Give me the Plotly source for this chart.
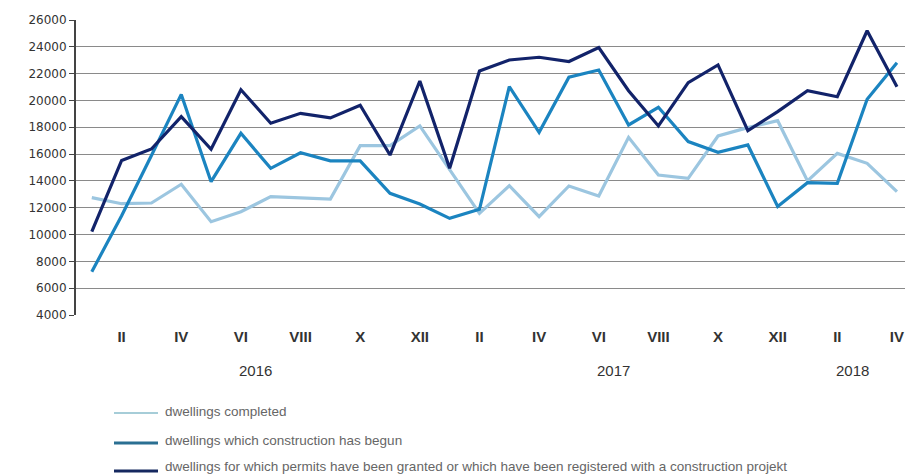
import plotly.graph_objects as go

months = list(range(28))  # Jan 2016 .. Apr 2018
tick_pos = [1, 3, 5, 7, 9, 11, 13, 15, 17, 19, 21, 23, 25, 27]
tick_text = ["II", "IV", "VI", "VIII", "X", "XII", "II", "IV", "VI", "VIII", "X", "XII", "II", "IV"]
years = ["2016", "2017", "2018"]
year_pos = [5.5, 17.5, 25.5]

completed = [12750, 12300, 12350, 13750, 10960, 11700, 12830, 12750, 12650, 16630, 16630, 18100,
             14870, 11580, 13640, 11330, 13620, 12880, 17250, 14440, 14190, 17350, 17970, 18490,
             14000, 16050, 15310, 13200]
begun = [7230, 11400, 15900, 20450, 13940, 17550, 14940, 16100, 15500, 15500, 13070, 12280,
         11210, 11880, 21030, 17620, 21730, 22270, 18170, 19490, 16930, 16130, 16680, 12100,
         13870, 13820, 20090, 22820]
permits = [10210, 15530, 16380, 18790, 16360, 20800, 18300, 19040, 18700, 19640, 15930, 21450,
           14940, 22200, 23020, 23220, 22900, 23940, 20730, 18100, 21330, 22650, 17750, 19170,
           20730, 20280, 25200, 21030]

names = ["dwellings completed",
         "dwellings which construction has begun",
         "dwellings for which permits have been granted or which have been registered with a construction projekt"]
colors = ["#9cc6e0", "#1b84c0", "#12236a"]
legend_colors = ["#a6cdd8", "#2a6f92", "#15285f"]

W, H = 909, 475
ML, MR, MT, MB = 76, 4, 20, 160
PW, PH = W - ML - MR, H - MT - MB


def px_x(p):
    return (p - ML) / PW


def px_y(p):
    return (H - MB - p) / PH


fig = go.Figure()
for vals, nm, c in zip([completed, begun, permits], names, colors):
    fig.add_trace(go.Scatter(x=months, y=vals, mode="lines", name=nm,
                             line=dict(color=c, width=3.2), showlegend=False))

for yr, xp in zip(years, year_pos):
    fig.add_annotation(x=xp, y=px_y(370), xref="x", yref="paper", text=yr, showarrow=False,
                       yanchor="middle",
                       font=dict(family="Liberation Sans Narrow, sans-serif",
                                 size=15, color="#333333"))

# manual legend (lines + real text)
line_rows = [413, 443, 471]
text_rows = [411, 440, 467]
for nm, c, ly, ty, lw in zip(names, legend_colors, line_rows, text_rows, [2, 3, 3]):
    fig.add_shape(type="line", xref="paper", yref="paper",
                  x0=px_x(114), x1=px_x(158), y0=px_y(ly), y1=px_y(ly),
                  line=dict(color=c, width=lw))
    fig.add_annotation(x=px_x(163), y=px_y(ty), xref="paper", yref="paper", text=nm,
                       showarrow=False, xanchor="left", yanchor="middle",
                       font=dict(family="Liberation Sans Narrow, sans-serif", size=13.5, color="#666666"))

fig.update_layout(
    width=W, height=H,
    margin=dict(l=ML, r=MR, t=MT, b=MB),
    plot_bgcolor="white", paper_bgcolor="white",
    showlegend=False,
    xaxis=dict(range=[-0.53, 27.27], tickmode="array", tickvals=tick_pos, ticktext=tick_text,
               showgrid=False, zeroline=False, showline=False, ticks="outside", ticklen=8,
               tickcolor="rgba(0,0,0,0)", automargin=False,
               tickfont=dict(family="Liberation Sans Narrow, sans-serif", size=15, color="#333333",
                             weight="bold")),
    yaxis=dict(range=[4000, 26000], tickmode="array", tickvals=list(range(4000, 26001, 2000)),
               tickformat="d", automargin=False,
               showgrid=True, gridcolor="#8a8a8a", gridwidth=1, zeroline=False,
               showline=True, linecolor="#444444", linewidth=2, ticks="outside", ticklen=5,
               tickcolor="#444444",
               tickfont=dict(family="DejaVu Sans, sans-serif", size=12, color="#333333")),
)

fig.write_html("out.html", config={"displayModeBar": False},
               post_script="document.body.style.margin='0';document.body.style.overflow='hidden';")
